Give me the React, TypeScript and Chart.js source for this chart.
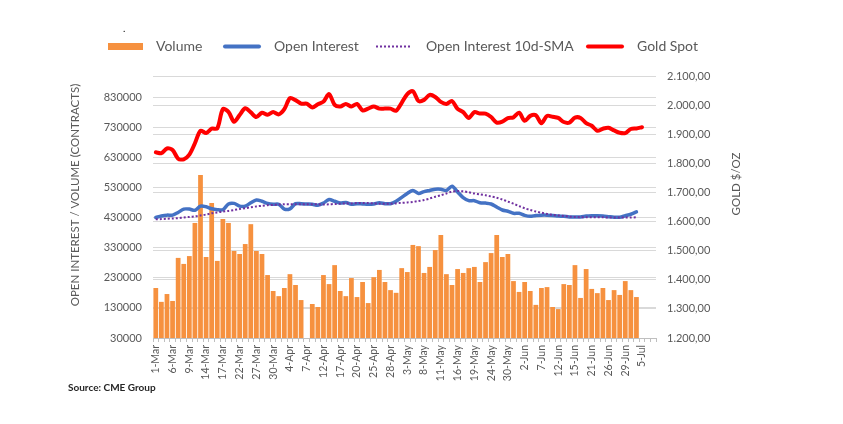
import React, { useEffect, useRef } from "react";
import { Chart, registerables } from "chart.js";

Chart.register(...registerables);

const dates = [
  "1-Mar","2-Mar","3-Mar","6-Mar","7-Mar","8-Mar","9-Mar","10-Mar","13-Mar","14-Mar","15-Mar","16-Mar","17-Mar","20-Mar","21-Mar","22-Mar","23-Mar","24-Mar","27-Mar","28-Mar","29-Mar","30-Mar","31-Mar",
  "3-Apr","4-Apr","5-Apr","6-Apr","7-Apr","10-Apr","11-Apr","12-Apr","13-Apr","14-Apr","17-Apr","18-Apr","19-Apr","20-Apr","21-Apr","24-Apr","25-Apr","26-Apr","27-Apr","28-Apr",
  "1-May","2-May","3-May","4-May","5-May","8-May","9-May","10-May","11-May","12-May","15-May","16-May","17-May","18-May","19-May","22-May","23-May","24-May","25-May","26-May","30-May","31-May",
  "1-Jun","2-Jun","5-Jun","6-Jun","7-Jun","8-Jun","9-Jun","12-Jun","13-Jun","14-Jun","15-Jun","16-Jun","20-Jun","21-Jun","22-Jun","23-Jun","26-Jun","27-Jun","28-Jun","29-Jun","30-Jun",
  "3-Jul","5-Jul","6-Jul","7-Jul",
];

// thousands of contracts
const volumeK = [
  196,150,176,153,296,276,302,412,571,299,478,286,425,412,319,309,342,408,319,309,239,186,169,196,242,206,156,
  null,
  143,133,239,209,272,186,169,229,166,216,146,232,256,216,189,180,262,
  249,339,335,246,266,322,372,242,206,259,246,262,266,216,282,312,372,299,309,219,
  183,216,186,140,196,199,133,126,209,206,272,163,259,193,179,196,156,189,173,219,189,166,
];

const openInterestK = [
  430,435,438,438,447,458,458,454,468,466,459,456,456,475,477,468,468,479,488,484,477,474,474,458,459,476,476,475,474,471,
  478,490,484,478,480,474,476,475,474,475,479,476,476,484,497,
  510,520,510,516,520,524,524,520,534,515,496,486,486,479,478,475,465,455,451,444,
  444,437,434,437,438,438,437,435,434,432,432,432,435,436,436,435,433,431,431,436,441,449,
];

const oiSmaK = [
  424,425,426,427,428,430,432,434,437,440,444,447,450,452,455,458,461,464,467,469,471,472,473,474,474,474,474,474,474,474,
  473,474,475,476,477,477,478,478,478,477,476,476,476,477,479,
  480,482,485,488,493,499,504,510,516,518,517,514,510,507,504,500,496,490,483,476,
  468,461,455,450,446,442,439,437,435,433,432,431,431,431,431,431,430,430,430,430,430,431,
];

const goldSpot = [
  1838,1835,1851,1846,1816,1814,1830,1869,1912,1904,1919,1920,1986,1977,1943,1966,1989,1975,1959,1974,1967,1976,1968,
  1986,2024,2017,2005,2005,1992,2003,2012,2038,2001,1995,2004,1995,2004,1982,1988,1995,1988,1988,1988,
  1981,2008,2038,2048,2014,2018,2035,2028,2011,2004,2014,1987,1976,1956,1976,1971,1971,1959,1940,1943,1955,1958,
  1974,1946,1963,1965,1938,1963,1960,1956,1942,1940,1957,1956,1938,1929,1912,1919,1922,1913,1905,1904,1918,1920,
  1924,
];

const volumeTicks = [30000,130000,230000,330000,430000,530000,630000,730000,830000];
const goldTicks = [1200,1300,1400,1500,1600,1700,1800,1900,2000,2100];

const legendLabels = ["Volume", "Open Interest", "Open Interest 10d-SMA", "Gold Spot"];
const leftTitle = "OPEN INTEREST / VOLUME (CONTRACTS)";
const rightTitle = "GOLD $/OZ";
const sourceText = "Source: CME Group";

const ORANGE = "#F6913F";
const BLUE = "#4472C4";
const PURPLE = "#7030A0";
const RED = "#FF0000";
const TEXT = "#595959";
const GRID = "#D9D9D9";

const fmtGold = (v: number) => {
  const fixed = v.toFixed(2);
  const [intPart, dec] = fixed.split(".");
  const withDots = intPart.replace(/\B(?=(\d{3})+(?!\d))/g, ".");
  return withDots + "," + dec;
};

export default function App() {
  const ref = useRef<HTMLCanvasElement>(null);

  useEffect(() => {
    const canvas = ref.current;
    if (!canvas) return;

    const overlay = {
      id: "overlay",
      afterDraw(chart: any) {
        const ctx = chart.ctx as CanvasRenderingContext2D;
        ctx.save();
        const drawLine = (x1: number, x2: number, y: number, color: string, w: number, dash: number[]) => {
          ctx.beginPath();
          ctx.strokeStyle = color;
          ctx.lineWidth = w;
          ctx.lineCap = dash.length ? "butt" : "round";
          ctx.setLineDash(dash);
          ctx.moveTo(x1, y);
          ctx.lineTo(x2, y);
          ctx.stroke();
          ctx.setLineDash([]);
        };
        const ly = 46.5;
        ctx.fillStyle = ORANGE;
        ctx.fillRect(108, 43, 35, 7);
        drawLine(225, 259, ly, BLUE, 4, []);
        drawLine(376, 411, ly, PURPLE, 2, [2, 2]);
        drawLine(588, 622, ly, RED, 4, []);

        ctx.fillStyle = TEXT;
        ctx.font = "14px Lato";
        ctx.textBaseline = "middle";
        ctx.textAlign = "left";
        ctx.fillText(legendLabels[0], 156, ly);
        ctx.fillText(legendLabels[1], 274, ly);
        ctx.fillText(legendLabels[2], 426, ly);
        ctx.fillText(legendLabels[3], 637, ly);

        // axis titles
        ctx.font = "11.5px Lato";
        ctx.textAlign = "center";
        ctx.save();
        ctx.translate(75, 195);
        ctx.rotate(-Math.PI / 2);
        ctx.fillText(leftTitle, 0, 0);
        ctx.restore();
        ctx.save();
        ctx.translate(736, 184);
        ctx.rotate(-Math.PI / 2);
        ctx.fillText(rightTitle, 0, 0);
        ctx.restore();

        // source
        ctx.textAlign = "left";
        ctx.fillStyle = "#262626";
        ctx.font = "bold 10px Lato";
        ctx.fillText(sourceText, 68, 388);

        ctx.fillStyle = "#000";
        ctx.font = "10px Lato";
        ctx.fillText(".", 123, 29);
        ctx.restore();
      },
    };

    const chart = new Chart(canvas, {
      type: "bar",
      data: {
        labels: dates,
        datasets: [
          {
            type: "bar",
            label: legendLabels[0],
            data: volumeK.map((v) => (v === null ? null : v * 1000)),
            backgroundColor: ORANGE,
            barPercentage: 0.85,
            categoryPercentage: 1.0,
            yAxisID: "y",
            order: 4,
          },
          {
            type: "line",
            label: legendLabels[1],
            data: openInterestK.map((v) => v * 1000),
            borderColor: BLUE,
            backgroundColor: BLUE,
            borderWidth: 3.5,
            pointRadius: 0,
            tension: 0.3,
            borderCapStyle: "round",
            yAxisID: "y",
            order: 3,
          },
          {
            type: "line",
            label: legendLabels[2],
            data: oiSmaK.map((v) => v * 1000),
            borderColor: PURPLE,
            backgroundColor: PURPLE,
            borderWidth: 2,
            borderDash: [2, 2],
            pointRadius: 0,
            tension: 0.3,
            yAxisID: "y",
            order: 2,
          },
          {
            type: "line",
            label: legendLabels[3],
            data: goldSpot,
            borderColor: RED,
            backgroundColor: RED,
            borderWidth: 4,
            pointRadius: 0,
            tension: 0.3,
            borderCapStyle: "round",
            borderJoinStyle: "round",
            yAxisID: "y2",
            order: 1,
          },
        ] as any,
      },
      options: {
        animation: false,
        responsive: false,
        maintainAspectRatio: false,
        layout: { padding: { left: 0, right: 0, top: 76, bottom: 34 } },
        plugins: {
          legend: { display: false },
          tooltip: { enabled: false },
        },
        scales: {
          x: {
            offset: true,
            grid: {
              display: true,
              drawOnChartArea: false,
              drawTicks: true,
              tickLength: 4,
              color: "#BFBFBF",
              offset: true,
            },
            border: { display: true, color: "#BFBFBF" },
            ticks: {
              autoSkip: false,
              maxRotation: 90,
              minRotation: 90,
              padding: 3,
              color: TEXT,
              font: { family: "Lato", size: 10.5 },
              callback: (_v: any, i: number) => (i % 3 === 0 ? dates[i] : ""),
            },
            afterFit: (s: any) => {
              s.height = 52;
            },
          },
          y: {
            position: "left",
            min: 30000,
            max: 900000,
            afterBuildTicks: (s: any) => {
              s.ticks = volumeTicks.map((v) => ({ value: v }));
            },
            ticks: {
              padding: 11,
              color: TEXT,
              font: { family: "Lato", size: 11 },
              callback: (v: any) => String(v),
            },
            grid: { color: GRID, drawTicks: false },
            border: { display: false },
            afterFit: (s: any) => {
              s.width = 153;
            },
          },
          y2: {
            position: "right",
            min: 1200,
            max: 2100,
            afterBuildTicks: (s: any) => {
              s.ticks = goldTicks.map((v) => ({ value: v }));
            },
            ticks: {
              padding: 11,
              color: TEXT,
              font: { family: "Lato", size: 11 },
              callback: (v: any) => fmtGold(Number(v)),
            },
            grid: { color: GRID, drawTicks: false },
            border: { display: false },
            afterFit: (s: any) => {
              s.width = 187;
            },
          },
        },
      } as any,
      plugins: [overlay],
    });

    return () => chart.destroy();
  }, []);

  return (
    <div style={{ position: "fixed", left: 0, top: 0, width: 843, height: 424, background: "#fff" }}>
      <canvas ref={ref} width={843} height={424} style={{ width: 843, height: 424, display: "block" }} />
    </div>
  );
}
